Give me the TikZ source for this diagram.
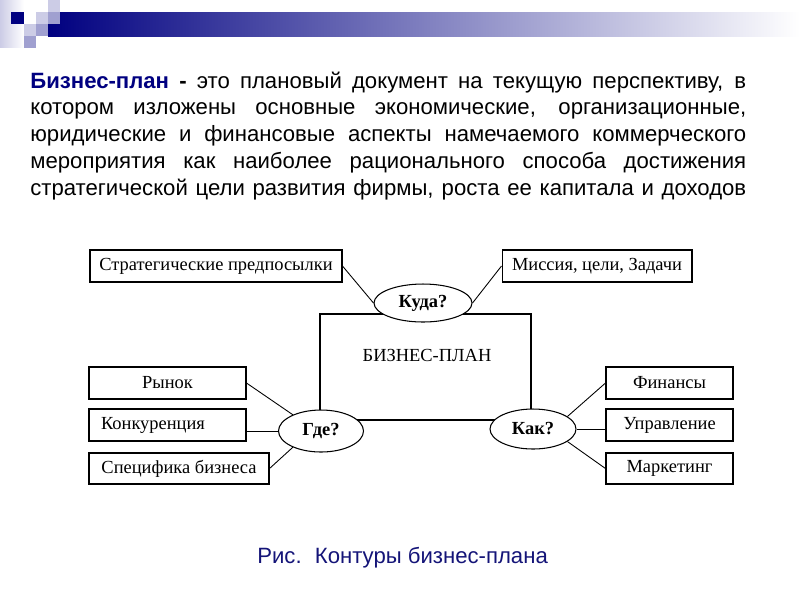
\documentclass[tikz,border=0pt]{standalone}
\usepackage{fontspec}
\setmainfont{Liberation Serif}
\newfontfamily\arialf{Liberation Sans}
\usetikzlibrary{shapes.geometric}
\definecolor{navyblue}{RGB}{0,0,128}
\definecolor{lavA}{RGB}{204,204,230}
\definecolor{lavB}{RGB}{160,160,208}
\definecolor{capnavy}{RGB}{20,20,120}
\begin{document}
\begin{tikzpicture}[x=0.02cm,y=-0.02cm,
  box/.style={draw=black, line width=0.6pt, rectangle, inner sep=0pt, minimum height=0.64cm, font=\fontsize{10.5}{12}\selectfont},
  oval/.style={draw=black, fill=white, line width=0.6pt, ellipse, inner sep=0pt, font=\fontsize{10.5}{12}\selectfont\bfseries},
  link/.style={draw=black, line width=0.5pt},
  para/.style={anchor=base west, inner sep=0pt, font=\fontsize{12.6}{14}\selectfont\arialf},
]
\useasboundingbox (0,0) rectangle (800,600);
\fill[white] (0,0) rectangle (800,600);

% header decoration
\shade[left color=lavA, right color=white] (0,0) rectangle (24,47);
\shade[left color=navyblue, right color=white] (48,12) rectangle (800,36);
\fill[navyblue] (11,12) rectangle (24,24);
\fill[lavA] (48,0) rectangle (60,12);
\fill[lavA] (36,12) rectangle (48,24);
\fill[lavB] (48,12) rectangle (60,24);
\fill[lavA] (24,24) rectangle (36,36);
\fill[lavB] (36,24) rectangle (48,36);
\fill[lavB] (24,36) rectangle (36,48);

% paragraph
\node[para] (l1) at (30,88) {\makebox[14.32cm][s]{{\bfseries\color{navyblue}Бизнес-план} {\bfseries -} это плановый документ на текущую перспективу, в}};
\node[para] (l2) at (30,114.75) {\makebox[14.32cm][s]{котором изложены основные экономические, организационные,}};
\node[para] (l3) at (30,141.5) {\makebox[14.32cm][s]{юридические и финансовые аспекты намечаемого коммерческого}};
\node[para] (l4) at (30,168.25) {\makebox[14.32cm][s]{мероприятия как наиболее рационального способа достижения}};
\node[para] (l5) at (30,195) {\makebox[14.32cm][s]{стратегической цели развития фирмы, роста ее капитала и доходов}};

% central frame
\draw[line width=0.6pt] (320,314) rectangle (531,420);
\node[font=\fontsize{10.5}{12}\selectfont, inner sep=0pt] (plan) at (427,355) {БИЗНЕС-ПЛАН};

% boxes
\node[box, minimum width=5.04cm] (strat) at (216,266) {Стратегические предпосылки};
\node[box, minimum width=3.8cm] (miss) at (597,266) {Миссия, цели, Задачи};
\node[box, minimum width=3.14cm] (ryn) at (167.5,383) {Рынок};
\node[box, inner xsep=0.24cm, text width=2.66cm, align=left] (konk) at (167.5,425) {Конкуренция};
\node[box, minimum width=3.6cm, minimum height=0.62cm] (spec) at (179,468.5) {Специфика бизнеса};
\node[box, minimum width=2.54cm] (fin) at (669.5,383) {Финансы};
\node[box, minimum width=2.54cm] (upr) at (669.5,425) {Управление};
\node[box, minimum width=2.54cm, minimum height=0.62cm] (mark) at (669.5,468.5) {Маркетинг};

% ovals
\node[oval, minimum width=1.96cm, minimum height=0.76cm] (kuda) at (423,303) {Куда?};
\node[oval, minimum width=1.7cm, minimum height=0.84cm] (gde) at (321,431) {Где?};
\node[oval, minimum width=1.72cm, minimum height=0.8cm] (kak) at (533,429) {Как?};

% connectors
\draw[link] (strat.east) -- (kuda.west);
\draw[link] (miss.west) -- (kuda.east);
\draw[link] (ryn.east) -- (gde.150);
\draw[link] (gde.west) -- (gde.west -| konk.east);
\draw[link] (spec.east) -- (gde.210);
\draw[link] (fin.west) -- (kak.20);
\draw[link] (kak.east) -- (kak.east -| upr.west);
\draw[link] (mark.west) -- (kak.-20);

% caption
\node[anchor=base west, inner sep=0pt, text=capnavy, font=\fontsize{12.6}{14}\selectfont\arialf] (cap) at (257,563) {Рис.\hspace{7.5pt}Контуры бизнес-плана};
\end{tikzpicture}
\end{document}
